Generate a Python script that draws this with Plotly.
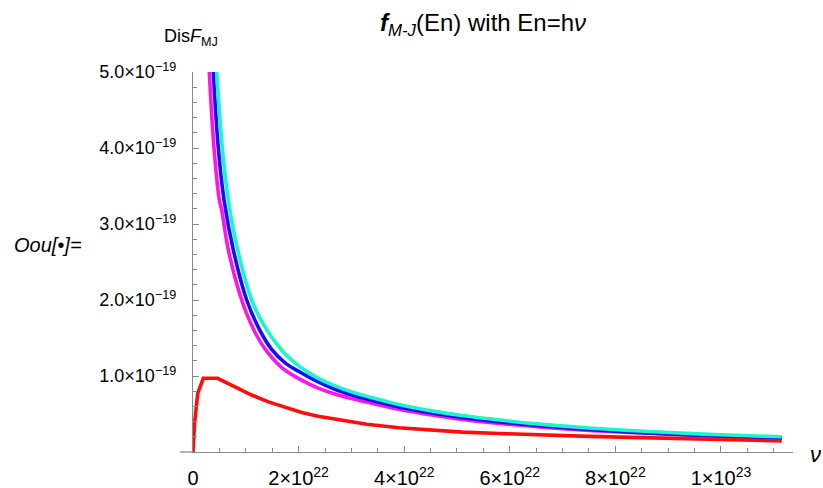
import plotly.graph_objects as go

# Frequency samples (Hz) and distribution values for the four curves
nu_magenta = [0.28e22, 0.309e22, 0.398e22, 0.498e22, 0.544e22, 0.669e22, 0.922e22, 1.15e22,
              1.364e22, 1.7e22, 2.03e22, 2.35e22, 2.69e22, 3.0e22, 3.29e22, 3.9e22, 4.55e22,
              5.1e22, 5.81e22, 6.57e22, 7.5e22, 8.91e22, 10.0e22, 11.15e22]
f_magenta = [5.5e-19, 5.0e-19, 4.0e-19, 3.32e-19, 3.18e-19, 2.66e-19, 2.0e-19, 1.609e-19,
             1.356e-19, 1.10e-19, 0.955e-19, 0.848e-19, 0.762e-19, 0.703e-19, 0.657e-19, 0.562e-19, 0.483e-19,
             0.429e-19, 0.375e-19, 0.329e-19, 0.284e-19, 0.236e-19, 0.204e-19, 0.177e-19]

nu_blue = [0.33e22, 0.384e22, 0.479e22, 0.587e22, 0.763e22, 1.017e22, 1.25e22, 1.49e22,
           1.75e22, 2.03e22, 2.35e22, 2.69e22, 3.0e22, 3.29e22, 3.9e22, 4.55e22, 5.1e22,
           5.81e22, 6.57e22, 7.5e22, 8.91e22, 10.0e22, 11.15e22]
f_blue = [5.8e-19, 5.0e-19, 4.0e-19, 3.32e-19, 2.66e-19, 2.0e-19, 1.624e-19, 1.35e-19,
          1.17e-19, 1.049e-19, 0.928e-19, 0.825e-19, 0.753e-19, 0.696e-19, 0.592e-19, 0.51e-19, 0.453e-19,
          0.396e-19, 0.346e-19, 0.296e-19, 0.241e-19, 0.208e-19, 0.181e-19]

nu_cyan = [0.38e22, 0.449e22, 0.555e22, 0.668e22, 0.847e22, 1.112e22, 1.35e22, 1.68e22,
           1.85e22, 2.03e22, 2.35e22, 2.69e22, 3.0e22, 3.29e22, 3.9e22, 4.55e22, 5.1e22,
           5.81e22, 6.57e22, 7.5e22, 8.91e22, 10.0e22, 11.15e22]
f_cyan = [5.9e-19, 5.0e-19, 4.0e-19, 3.32e-19, 2.66e-19, 2.0e-19, 1.659e-19, 1.339e-19,
          1.222e-19, 1.118e-19, 0.979e-19, 0.87e-19, 0.793e-19, 0.733e-19, 0.626e-19, 0.538e-19, 0.48e-19,
          0.42e-19, 0.367e-19, 0.316e-19, 0.259e-19, 0.227e-19, 0.20e-19]

nu_red = [0.0, 0.03e22, 0.089e22, 0.195e22, 0.467e22, 0.795e22, 1.11e22, 1.43e22, 1.74e22,
          2.06e22, 2.37e22, 2.69e22, 3.0e22, 3.29e22, 3.9e22, 4.55e22, 5.1e22, 5.81e22,
          6.57e22, 7.5e22, 8.91e22, 10.0e22, 11.15e22]
f_red = [0.0, 0.38e-19, 0.77e-19, 0.97e-19, 0.97e-19, 0.86e-19, 0.75e-19, 0.66e-19, 0.585e-19,
         0.52e-19, 0.47e-19, 0.43e-19, 0.395e-19, 0.365e-19, 0.32e-19, 0.285e-19, 0.262e-19, 0.243e-19,
         0.225e-19, 0.205e-19, 0.182e-19, 0.162e-19, 0.145e-19]

# Axis ticks
x_tick_vals = [0, 2e22, 4e22, 6e22, 8e22, 1e23]
x_tick_text = ["0", "2×10<sup>22</sup>", "4×10<sup>22</sup>", "6×10<sup>22</sup>",
               "8×10<sup>22</sup>", "1×10<sup>23</sup>"]
y_tick_vals = [1e-19, 2e-19, 3e-19, 4e-19, 5e-19]
y_tick_text = ["1.0×10<sup>−19</sup>", "2.0×10<sup>−19</sup>", "3.0×10<sup>−19</sup>",
               "4.0×10<sup>−19</sup>", "5.0×10<sup>−19</sup>"]

FONT = "Liberation Sans, Arial, sans-serif"
AXIS_COLOR = "#8a8a8a"
LW = 3.6

fig = go.Figure()
fig.add_trace(go.Scatter(x=nu_magenta, y=f_magenta, mode="lines",
                         line=dict(color="#ff14ee", width=LW, shape="spline", smoothing=1.0)))
fig.add_trace(go.Scatter(x=nu_blue, y=f_blue, mode="lines",
                         line=dict(color="#1010ff", width=LW, shape="spline", smoothing=1.0)))
fig.add_trace(go.Scatter(x=nu_cyan, y=f_cyan, mode="lines",
                         line=dict(color="#1cf5c8", width=LW, shape="spline", smoothing=1.0)))
fig.add_trace(go.Scatter(x=nu_red, y=f_red, mode="lines",
                         line=dict(color="#ff0d0d", width=LW)))

W, H = 823, 488
ML, MR, MT, MB = 193, 30, 72, 36
PW, PH = W - ML - MR, H - MT - MB


def px_x(p):
    return (p - ML) / PW


def px_y(p):
    return (H - MB - p) / PH


fig.update_layout(
    width=W, height=H,
    margin=dict(l=ML, r=MR, t=MT, b=MB, pad=0, autoexpand=False),
    paper_bgcolor="white", plot_bgcolor="white",
    showlegend=False,
    font=dict(family=FONT, size=18, color="black"),
    xaxis=dict(
        range=[0, 11.364e22], showgrid=False, zeroline=False, automargin=False,
        showline=True, linecolor=AXIS_COLOR, linewidth=1.3,
        ticks="inside", ticklen=6, tickwidth=1.2, tickcolor=AXIS_COLOR,
        tickmode="array", tickvals=x_tick_vals, ticktext=x_tick_text,
        ticklabelstandoff=8,
        minor=dict(tickmode="linear", tick0=0, dtick=0.5e22, ticks="inside",
                   ticklen=3.5, tickwidth=1.2, tickcolor=AXIS_COLOR),
        tickfont=dict(family=FONT, size=20, color="black"),
    ),
    yaxis=dict(
        range=[0, 5e-19], showgrid=False, zeroline=False, automargin=False,
        showline=True, linecolor=AXIS_COLOR, linewidth=1.3,
        ticks="inside", ticklen=6, tickwidth=1.2, tickcolor=AXIS_COLOR,
        tickmode="array", tickvals=y_tick_vals, ticktext=y_tick_text,
        ticklabelstandoff=12,
        minor=dict(tickmode="linear", tick0=0, dtick=0.2e-19, ticks="inside",
                   ticklen=3.5, tickwidth=1.2, tickcolor=AXIS_COLOR),
        tickfont=dict(family=FONT, size=18, color="black"),
    ),
)

# short extension of the horizontal axis to the left of the origin
fig.add_shape(type="line", xref="paper", yref="paper",
              x0=px_x(180), x1=0, y0=0, y1=0,
              line=dict(color=AXIS_COLOR, width=1.3))

annotations = [
    dict(text="<b><i>f</i></b><sub><i>M-J</i></sub>(En) with En=h<i>ν</i>",
         x=px_x(483), y=px_y(24), xanchor="center", yanchor="middle",
         font=dict(size=24)),
    dict(text="Dis<i>F</i><sub>MJ</sub>",
         x=px_x(191), y=px_y(37), xanchor="center", yanchor="middle",
         font=dict(size=18)),
    dict(text="<i>Oou[•]=</i>",
         x=px_x(12), y=px_y(245), xanchor="left", yanchor="middle",
         font=dict(size=20)),
    dict(text="<i>ν</i>",
         x=px_x(815), y=px_y(455), xanchor="center", yanchor="middle",
         font=dict(size=22)),
]
for a in annotations:
    fig.add_annotation(xref="paper", yref="paper", showarrow=False,
                       font_family=FONT, font_color="black", **a)

fig.write_html("out.html")
